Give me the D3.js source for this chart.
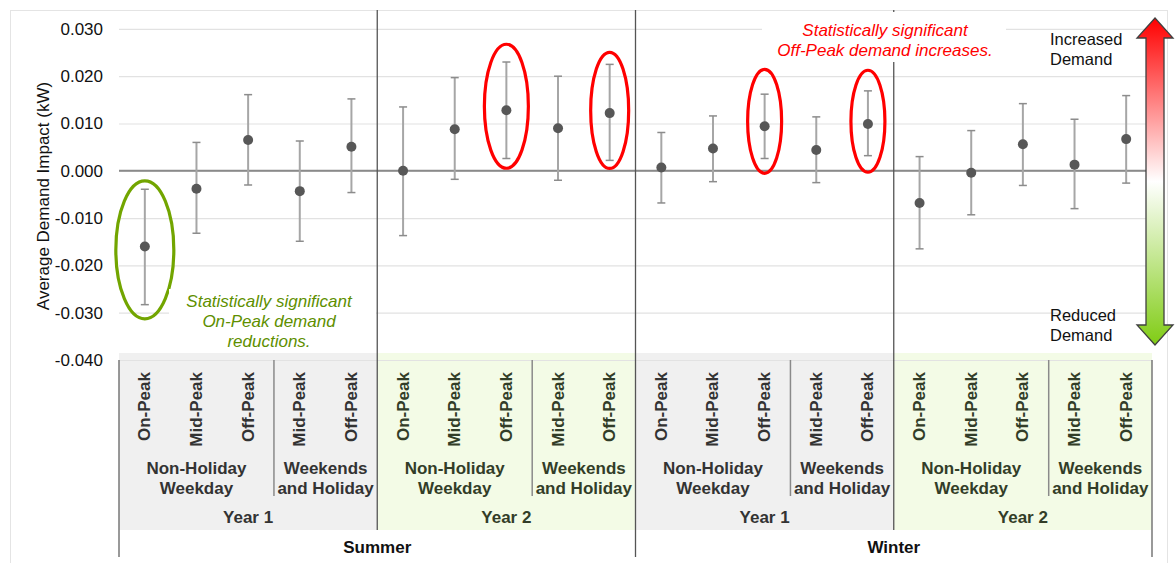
<!DOCTYPE html>
<html>
<head>
<meta charset="utf-8">
<script src="https://cdn.jsdelivr.net/npm/d3@7"></script>
<style>
  html, body { margin: 0; padding: 0; background: #ffffff; }
  svg { display: block; font-family: "Liberation Sans", Arial, Helvetica, sans-serif; }
</style>
</head>
<body>
<svg id="chart" width="1175" height="563"></svg>
<script>
// ---- data -------------------------------------------------------------
const seasons = ["Summer", "Winter"];
const years = ["Year 1", "Year 2"];
const dayTypes = [["Non-Holiday", "Weekday"], ["Weekends", "and Holiday"]];
const dayTypePeriods = [["On-Peak", "Mid-Peak", "Off-Peak"], ["Mid-Peak", "Off-Peak"]];

// average demand impact (kW) and its confidence interval, in category order
const impact = [-0.0160, -0.0038, 0.0065, -0.0043, 0.0051,
                 0.0000,  0.0088, 0.0128,  0.0090, 0.0122,
                 0.0007,  0.0047, 0.0094,  0.0044, 0.0099,
                -0.0068, -0.0004, 0.0056,  0.0013, 0.0067];
const upper  = [-0.0039,  0.0060, 0.0161,  0.0063, 0.0152,
                 0.0135,  0.0197, 0.0230,  0.0200, 0.0225,
                 0.0081,  0.0116, 0.0162,  0.0114, 0.0169,
                 0.0030,  0.0085, 0.0142,  0.0109, 0.0159];
const lower  = [-0.0283, -0.0132, -0.0030, -0.0149, -0.0046,
                -0.0137, -0.0018,  0.0026, -0.0020,  0.0022,
                -0.0068, -0.0023,  0.0026, -0.0025,  0.0032,
                -0.0165, -0.0093, -0.0031, -0.0080, -0.0026];

const yTicks = [-0.04, -0.03, -0.02, -0.01, 0, 0.01, 0.02, 0.03];
const yTickLabels = ["-0.040", "-0.030", "-0.020", "-0.010", "0.000", "0.010", "0.020", "0.030"];

// significant results, circled
const onPeakCuts = [0];
const offPeakRises = [7, 9, 12, 14];

// ---- category table ---------------------------------------------------
const rows = [];
seasons.forEach((s, si) => years.forEach((yr, yi) => dayTypes.forEach((dt, di) =>
  dayTypePeriods[di].forEach(p => rows.push({ season: si, year: yi, day: di, period: p })))));
rows.forEach((r, i) => { r.i = i; r.v = impact[i]; r.hi = upper[i]; r.lo = lower[i]; });

// ---- layout -----------------------------------------------------------
const svg = d3.select("#chart");
const plotLeft = 119, plotRight = 1152, plotTop = 10, plotBottom = 360;
const x = d3.scaleBand().domain(d3.range(rows.length)).range([plotLeft, plotRight]).padding(0);
const y = d3.scaleLinear().domain([-0.04, 0.03]).range([plotBottom, plotBottom - 7 * 47.3]);
const xc = i => x(i) + x.bandwidth() / 2;
const xEdge = i => x(i);

const bandTop = 353, yearBottom = 530, groupBottom = 496, seasonBottom = 557;
const textDark = "#333333", textOlive = "#323d28";

// outer frame
svg.append("rect").attr("x", 10.5).attr("y", 10.5).attr("width", 1157).attr("height", 570)
  .attr("fill", "none").attr("stroke", "#e4e4e4");

// year bands behind the category labels
const yearSpans = [];
seasons.forEach((s, si) => years.forEach((yr, yi) => {
  const idx = rows.filter(r => r.season === si && r.year === yi).map(r => r.i);
  yearSpans.push({ si, yi, label: yr, x0: xEdge(idx[0]), x1: xEdge(idx[idx.length - 1]) + x.bandwidth() });
}));
svg.append("g").selectAll("rect").data(yearSpans).join("rect")
  .attr("x", d => d.x0).attr("y", bandTop)
  .attr("width", d => d.x1 - d.x0).attr("height", yearBottom - bandTop)
  .attr("fill", d => d.yi === 0 ? "#f0f0f0" : "#f3fbe6");

// horizontal gridlines
svg.append("g").attr("transform", `translate(${plotLeft},0)`)
  .call(d3.axisLeft(y).tickValues(yTicks).tickSize(-(plotRight - plotLeft)).tickFormat(""))
  .call(g => g.select(".domain").remove())
  .call(g => g.selectAll("line").attr("stroke", "#e2e2e2").attr("stroke-width", 1.2));

// y tick labels
svg.append("g").attr("transform", `translate(${plotLeft},0)`)
  .call(d3.axisLeft(y).tickValues(yTicks).tickSize(0).tickPadding(16)
    .tickFormat((d, i) => yTickLabels[i]))
  .call(g => g.select(".domain").remove())
  .call(g => g.selectAll("text").attr("font-size", 17).attr("fill", "#111")
    .attr("font-family", "'Liberation Sans', Arial, sans-serif"));

// y axis title
svg.append("text").attr("transform", "translate(43,196) rotate(-90)")
  .attr("text-anchor", "middle").attr("dominant-baseline", "central")
  .attr("font-size", 17).attr("fill", "#111").text("Average Demand Impact (kW)");

// zero line
svg.append("line").attr("x1", plotLeft).attr("x2", plotRight - 6)
  .attr("y1", y(0)).attr("y2", y(0)).attr("stroke", "#8a8a8a").attr("stroke-width", 2);

// boundaries between years and seasons
const yearStarts = yearSpans.slice(1).map(d => d.x0);
svg.append("g").selectAll("line").data(yearStarts).join("line")
  .attr("x1", d => d).attr("x2", d => d)
  .attr("y1", plotTop).attr("y2", (d, i) => i === 1 ? seasonBottom : yearBottom)
  .attr("stroke", "#555").attr("stroke-width", 1.3);
svg.append("g").selectAll("line").data([plotLeft, plotRight]).join("line")
  .attr("x1", d => d).attr("x2", d => d).attr("y1", plotBottom).attr("y2", seasonBottom)
  .attr("stroke", "#777").attr("stroke-width", 1.5);

// boundaries between day types
const dayStarts = rows.filter((r, i) => i > 0 && r.day === 1 && rows[i - 1].day === 0).map(r => xEdge(r.i));
svg.append("g").selectAll("line").data(dayStarts).join("line")
  .attr("x1", d => d).attr("x2", d => d).attr("y1", plotBottom).attr("y2", groupBottom)
  .attr("stroke", "#8a8a8a").attr("stroke-width", 1.5);

// period labels
svg.append("g").selectAll("text").data(rows).join("text")
  .attr("transform", d => `translate(${xc(d.i)},372) rotate(-90)`)
  .attr("text-anchor", "end").attr("dominant-baseline", "central")
  .attr("font-size", 17).attr("font-weight", "bold")
  .attr("fill", d => d.year === 0 ? textDark : textOlive)
  .text(d => d.period);

// day type labels
const dayGroups = d3.groups(rows, d => `${d.season}-${d.year}-${d.day}`).map(([k, rs]) => ({
  cx: (xEdge(rs[0].i) + xEdge(rs[rs.length - 1].i) + x.bandwidth()) / 2,
  lines: dayTypes[rs[0].day], year: rs[0].year
}));
const dg = svg.append("g").selectAll("text").data(dayGroups).join("text")
  .attr("text-anchor", "middle").attr("font-size", 17).attr("font-weight", "bold")
  .attr("fill", d => d.year === 0 ? textDark : textOlive);
dg.selectAll("tspan").data(d => d.lines.map((t, j) => ({ t, j, cx: d.cx }))).join("tspan")
  .attr("x", d => d.cx).attr("y", d => 474 + d.j * 20).text(d => d.t);

// year labels
svg.append("g").selectAll("text").data(yearSpans).join("text")
  .attr("x", d => (d.x0 + d.x1) / 2).attr("y", 523)
  .attr("text-anchor", "middle").attr("font-size", 17).attr("font-weight", "bold")
  .attr("fill", d => d.yi === 0 ? textDark : textOlive).text(d => d.label);

// season labels
svg.append("g").selectAll("text").data(seasons).join("text")
  .attr("x", (d, si) => {
    const idx = rows.filter(r => r.season === si).map(r => r.i);
    return (xEdge(idx[0]) + xEdge(idx[idx.length - 1]) + x.bandwidth()) / 2;
  })
  .attr("y", 553).attr("text-anchor", "middle").attr("font-size", 17).attr("font-weight", "bold")
  .attr("fill", "#111").text(d => d);

// error bars
const eb = svg.append("g").selectAll("g").data(rows).join("g");
eb.append("line").attr("x1", d => xc(d.i)).attr("x2", d => xc(d.i))
  .attr("y1", d => y(d.hi)).attr("y2", d => y(d.lo))
  .attr("stroke", "#a6a6a6").attr("stroke-width", 2);
eb.selectAll(".cap").data(d => [d.hi, d.lo].map(v => ({ v, i: d.i }))).join("line")
  .attr("class", "cap")
  .attr("x1", d => xc(d.i) - 4).attr("x2", d => xc(d.i) + 4)
  .attr("y1", d => y(d.v)).attr("y2", d => y(d.v))
  .attr("stroke", "#8c8c8c").attr("stroke-width", 1.5);

// point estimates
svg.append("g").selectAll("circle").data(rows).join("circle")
  .attr("cx", d => xc(d.i)).attr("cy", d => y(d.v)).attr("r", 5)
  .attr("fill", "#575757");

// circled significant results
const ringSize = { 0: [29, 69, 3], 7: [22, 62, -4], 9: [19, 58, -2], 12: [17, 52, -5], 14: [17, 51, -2] };
const rings = onPeakCuts.map(i => ({ i, c: "#72a500" })).concat(offPeakRises.map(i => ({ i, c: "#ff0000" })));
svg.append("g").selectAll("ellipse").data(rings).join("ellipse")
  .attr("cx", d => xc(d.i))
  .attr("cy", d => y((rows[d.i].hi + rows[d.i].lo) / 2) + ringSize[d.i][2])
  .attr("rx", d => ringSize[d.i][0]).attr("ry", d => ringSize[d.i][1])
  .attr("fill", "none").attr("stroke", d => d.c).attr("stroke-width", 3.2);

// annotation notes
function note(lines, cx, y0, color, box) {
  svg.append("rect").attr("x", box[0]).attr("y", box[1]).attr("width", box[2]).attr("height", box[3])
    .attr("fill", "#ffffff");
  const t = svg.append("text").attr("text-anchor", "middle").attr("font-size", 17)
    .attr("font-style", "italic").attr("fill", color);
  lines.forEach((l, j) => t.append("tspan").attr("x", cx).attr("y", y0 + j * 20).text(l));
}
note(["Statistically significant", "On-Peak demand", "reductions."], 269, 307, "#5e8f00", [169, 289, 207, 62]);
note(["Statistically significant", "Off-Peak demand increases."], 885, 36, "#ff0000", [762, 12, 244, 50]);

// demand direction arrow
const defs = svg.append("defs");
const grad = defs.append("linearGradient").attr("id", "dirGrad")
  .attr("x1", 0).attr("y1", 0).attr("x2", 0).attr("y2", 1);
[[0, "#ff0000"], [0.5, "#ffffff"], [1, "#80cc14"]].forEach(([o, c]) =>
  grad.append("stop").attr("offset", o).attr("stop-color", c));
const ax = 1155, aTop = 18, aBot = 345, headH = 20, headW = 18, shaftW = 9;
const arrow = d3.path();
arrow.moveTo(ax, aTop);
arrow.lineTo(ax + headW, aTop + headH);
arrow.lineTo(ax + shaftW, aTop + headH);
arrow.lineTo(ax + shaftW, aBot - headH);
arrow.lineTo(ax + headW, aBot - headH);
arrow.lineTo(ax, aBot);
arrow.lineTo(ax - headW, aBot - headH);
arrow.lineTo(ax - shaftW, aBot - headH);
arrow.lineTo(ax - shaftW, aTop + headH);
arrow.lineTo(ax - headW, aTop + headH);
arrow.closePath();
svg.append("path").attr("d", arrow.toString()).attr("fill", "url(#dirGrad)")
  .attr("stroke", "#404040").attr("stroke-width", 1.3).attr("stroke-linejoin", "miter");

const dirLabels = [[["Increased", "Demand"], 45], [["Reduced", "Demand"], 321]];
dirLabels.forEach(([lines, y0]) => {
  const t = svg.append("text").attr("font-size", 16.5).attr("fill", "#111");
  lines.forEach((l, j) => t.append("tspan").attr("x", 1050).attr("y", y0 + j * 20).text(l));
});
</script>
</body>
</html>
